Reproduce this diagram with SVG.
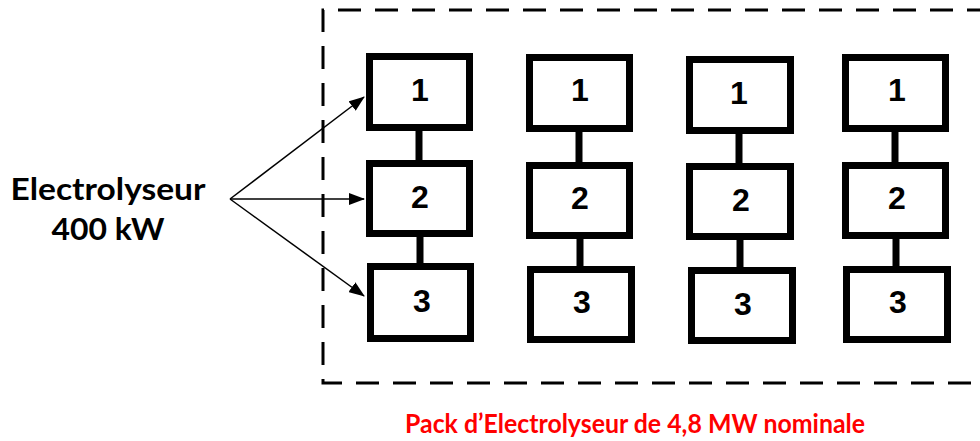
<svg xmlns="http://www.w3.org/2000/svg" width="980" height="441" viewBox="0 0 980 441">
<style>
.box{fill:#fff;stroke:#000;stroke-width:7}
.link{stroke:#000;stroke-width:7;fill:none}
.num{font-family:"Liberation Sans",Arial,sans-serif;font-weight:bold;font-size:32px;text-anchor:middle;fill:#000}
.lbl{font-family:Lato,"Open Sans",sans-serif;font-weight:bold;fill:#000}
.arrow{stroke:#000;stroke-width:1.5;fill:none}
</style>
<defs>
<marker id="ah" markerWidth="16" markerHeight="12" refX="15" refY="6" orient="auto" markerUnits="userSpaceOnUse">
<path d="M0,0 L16,6 L0,12 Z" fill="#000"/>
</marker>
</defs>
<rect width="980" height="441" fill="#fff"/>
<path id="pack" d="M990,10 H323 V383 H990" fill="none" stroke="#000" stroke-width="3" stroke-dasharray="23,14"/>
<g id="connectors">
<line class="link" x1="419" y1="131" x2="419" y2="162"/>
<line class="link" x1="420" y1="236" x2="420" y2="265"/>
<line class="link" x1="579" y1="132" x2="579" y2="164"/>
<line class="link" x1="580" y1="238" x2="580" y2="268"/>
<line class="link" x1="739" y1="134" x2="739" y2="165"/>
<line class="link" x1="740" y1="239" x2="740" y2="269"/>
<line class="link" x1="895" y1="132" x2="895" y2="164"/>
<line class="link" x1="896" y1="238" x2="896" y2="268"/>
<path class="arrow" d="M230,199 L364,97" marker-end="url(#ah)"/>
<path class="arrow" d="M230,199 L364,199" marker-end="url(#ah)"/>
<path class="arrow" d="M230,199 L364,296" marker-end="url(#ah)"/>
</g>
<g id="c1n1"><rect class="box" x="369.5" y="56.5" width="100" height="71"/><text class="num" x="420" y="101">1</text></g>
<g id="c1n2"><rect class="box" x="369.5" y="163.5" width="100" height="70"/><text class="num" x="420" y="208">2</text></g>
<g id="c1n3"><rect class="box" x="370.5" y="266.5" width="100" height="72"/><text class="num" x="422" y="312">3</text></g>
<g id="c2n1"><rect class="box" x="529.5" y="57.5" width="100" height="71"/><text class="num" x="580" y="101">1</text></g>
<g id="c2n2"><rect class="box" x="529.5" y="165.5" width="100" height="70"/><text class="num" x="580" y="209">2</text></g>
<g id="c2n3"><rect class="box" x="530.5" y="269.5" width="101" height="70"/><text class="num" x="582" y="313">3</text></g>
<g id="c3n1"><rect class="box" x="689.5" y="59.5" width="101" height="71"/><text class="num" x="739" y="104">1</text></g>
<g id="c3n2"><rect class="box" x="689.5" y="166.5" width="101" height="70"/><text class="num" x="741" y="211">2</text></g>
<g id="c3n3"><rect class="box" x="691.5" y="270.5" width="101" height="70"/><text class="num" x="743" y="315">3</text></g>
<g id="c4n1"><rect class="box" x="845.5" y="57.5" width="100" height="71"/><text class="num" x="897" y="101">1</text></g>
<g id="c4n2"><rect class="box" x="845.5" y="165.5" width="100" height="70"/><text class="num" x="897" y="209">2</text></g>
<g id="c4n3"><rect class="box" x="846.5" y="269.5" width="101" height="70"/><text class="num" x="898" y="313">3</text></g>
<g id="source">
<text class="lbl" x="108" y="200" font-size="31" text-anchor="middle" textLength="195" lengthAdjust="spacingAndGlyphs">Electrolyseur</text>
<text class="lbl" x="108" y="240" font-size="31" text-anchor="middle" textLength="113" lengthAdjust="spacingAndGlyphs">400 kW</text>
</g>
<text class="lbl" x="405" y="433" font-size="26" fill="#ff0000" style="fill:#ff0000" textLength="460" lengthAdjust="spacingAndGlyphs">Pack d’Electrolyseur de 4,8 MW nominale</text>
</svg>
